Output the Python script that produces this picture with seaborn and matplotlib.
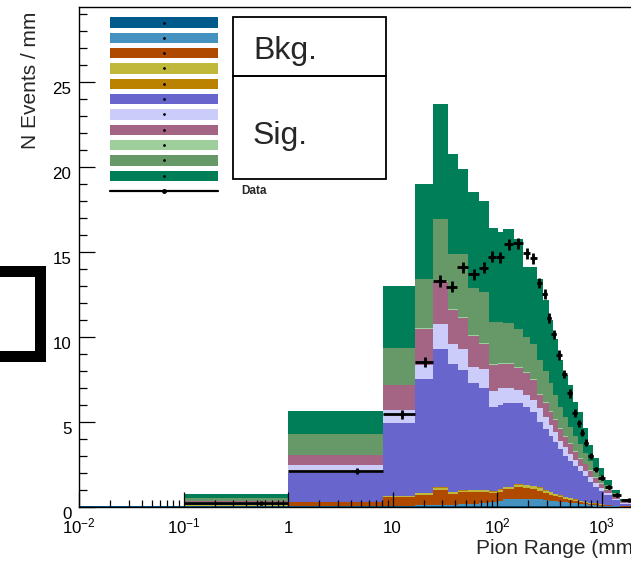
import numpy as np
import pandas as pd
import matplotlib
matplotlib.use("Agg")
import matplotlib.pyplot as plt
import seaborn as sns
from matplotlib.patches import Rectangle
from matplotlib.lines import Line2D
from matplotlib.ticker import FixedLocator, FixedFormatter, LogLocator, NullFormatter, MultipleLocator

# ---------------- data ----------------
mc_edges = [0.01, 0.1, 1, 8.06, 16.4, 24.6, 33.7, 42.1, 52.4, 67.7, 84.4, 101.6, 115, 146,
            179, 209, 240, 277, 315, 346, 381, 425, 475, 530, 592, 670, 738, 835, 952,
            1064, 1269, 1503, 2138]

layer_names = ["Bkg. 1", "Bkg. 2", "Bkg. 3", "Bkg. 4", "Sig. 1", "Sig. 2", "Sig. 3",
               "Sig. 4", "Sig. 5", "Sig. 6", "Sig. 7"]
layer_colors = ["#005A8C", "#4592C0", "#B04A00", "#C0B83A", "#BA8200", "#6866CC",
                "#CCCCFA", "#A46484", "#9ECE9C", "#679867", "#007E58"]

# cumulative top of each stacked layer per bin (bottom layer first)
top_bkg1 = [0.06, 0.03, 0.03, 0.03, 0.03, 0.04, 0.04, 0.04, 0.05, 0.05, 0.05, 0.05, 0.06, 0.06, 0.06, 0.06,
            0.06, 0.05, 0.05, 0.05, 0.04, 0.04, 0.04, 0.03, 0.03, 0.03, 0.03, 0.02, 0.02, 0.02, 0.01, 0.01]
top_bkg2 = [0.06, 0.05, 0.06, 0.08, 0.10, 0.13, 0.13, 0.15, 0.20, 0.25, 0.30, 0.35, 0.45, 0.48, 0.48, 0.47,
            0.45, 0.42, 0.38, 0.35, 0.32, 0.28, 0.25, 0.22, 0.19, 0.16, 0.13, 0.10, 0.08, 0.06, 0.04, 0.02]
top_bkg3 = [0.06, 0.08, 0.30, 0.58, 0.72, 1.00, 0.78, 0.88, 0.88, 0.90, 0.80, 0.90, 1.05, 1.15, 1.10, 1.05,
            0.95, 0.82, 0.72, 0.64, 0.56, 0.48, 0.42, 0.36, 0.30, 0.25, 0.20, 0.16, 0.12, 0.09, 0.06, 0.03]
top_bkg4 = [0.06, 0.09, 0.31, 0.63, 0.80, 1.12, 0.86, 0.96, 0.98, 1.00, 0.90, 1.02, 1.18, 1.32, 1.28, 1.22,
            1.12, 0.97, 0.86, 0.76, 0.67, 0.58, 0.50, 0.43, 0.36, 0.30, 0.25, 0.20, 0.15, 0.11, 0.07, 0.04]
top_sig1 = [0.06, 0.10, 0.32, 0.65, 0.82, 1.15, 0.88, 0.98, 1.00, 1.02, 0.92, 1.04, 1.20, 1.35, 1.31, 1.25,
            1.15, 1.00, 0.88, 0.78, 0.69, 0.60, 0.52, 0.45, 0.38, 0.32, 0.26, 0.21, 0.16, 0.12, 0.08, 0.05]
top_sig2 = [0.06, 0.22, 2.00, 4.92, 7.53, 9.27, 8.39, 8.06, 7.27, 6.98, 5.90, 6.00, 6.14, 6.10, 5.90, 5.60,
            5.00, 4.60, 4.20, 3.80, 3.40, 3.00, 2.70, 2.40, 2.10, 1.80, 1.50, 1.20, 0.95, 0.70, 0.40, 0.18]
top_sig3 = [0.06, 0.27, 2.47, 5.70, 8.35, 10.76, 9.57, 9.27, 8.25, 8.10, 6.84, 6.98, 7.00, 6.90, 6.60, 6.30,
            5.80, 5.30, 4.80, 4.40, 3.90, 3.50, 3.10, 2.75, 2.40, 2.10, 1.75, 1.40, 1.10, 0.82, 0.48, 0.22]
top_sig4 = [0.06, 0.35, 3.06, 7.18, 10.47, 13.25, 11.60, 11.10, 10.06, 9.60, 8.35, 8.40, 8.40, 8.20, 7.90, 7.50,
            6.60, 6.10, 5.60, 5.10, 4.60, 4.10, 3.70, 3.25, 2.85, 2.50, 2.10, 1.70, 1.35, 1.00, 0.60, 0.28]
top_sig5 = [0.06, 0.36, 3.08, 7.20, 10.50, 13.30, 11.65, 11.15, 10.10, 9.65, 8.40, 8.45, 8.45, 8.25, 7.95, 7.55,
            6.65, 6.15, 5.65, 5.15, 4.65, 4.15, 3.75, 3.30, 2.90, 2.55, 2.15, 1.75, 1.40, 1.04, 0.63, 0.30]
top_sig6 = [0.06, 0.55, 4.27, 9.37, 13.40, 16.94, 14.86, 14.86, 12.86, 12.63, 10.90, 10.90, 10.80, 10.50, 10.00, 9.60,
            8.65, 8.00, 7.30, 6.60, 5.90, 5.30, 4.70, 4.20, 3.70, 3.20, 2.70, 2.20, 1.80, 1.30, 0.80, 0.38]
top_sig7 = [0.06, 0.75, 5.67, 13.00, 18.98, 23.69, 20.75, 19.88, 18.51, 18.00, 16.43, 16.20, 16.35, 15.76, 14.14, 14.14,
            13.40, 12.20, 11.00, 9.90, 8.65, 7.76, 7.18, 6.20, 5.60, 4.63, 3.65, 2.86, 2.27, 1.59, 1.00, 0.50]

data_edges = [0.1, 1, 8.06, 16.4, 24.6, 32.4, 41.4, 52.6, 66.7, 82.6, 97.5, 115.8, 143.2, 175.4,
              207.8, 238.8, 270.4, 301, 331, 371, 415.6, 467.7, 526, 580.8, 631, 682, 745, 832,
              936, 1072, 1265, 1538, 2138]
data_y = [0.22, 2.10, 5.45, 8.55, 13.31, 12.96, 14.10, 13.69, 14.08, 14.73, 14.69, 15.45, 15.51, 14.92,
          14.63, 13.16, 12.51, 11.10, 10.16, 8.94, 7.82, 6.69, 5.55, 4.92, 4.37, 3.78, 3.00, 2.22,
          1.73, 1.19, 0.71, 0.40]
data_yerr = [0.10, 0.17, 0.26, 0.30, 0.34, 0.33, 0.33, 0.32, 0.32, 0.32, 0.32, 0.32, 0.32, 0.31,
             0.31, 0.30, 0.30, 0.29, 0.28, 0.27, 0.26, 0.25, 0.23, 0.22, 0.21, 0.20, 0.18, 0.16,
             0.14, 0.12, 0.10, 0.07]

x_tick_values = [0.01, 0.1, 1, 10, 100, 1000]
x_tick_labels = [r"$10^{-2}$", r"$10^{-1}$", "1", "10", r"$10^{2}$", r"$10^{3}$"]
y_tick_values = [0, 5, 10, 15, 20, 25]

# ---------------- style ----------------
sns.set_theme(style="ticks")
plt.rcParams["font.family"] = ["Liberation Sans", "DejaVu Sans"]
plt.rcParams["mathtext.fontset"] = "custom"
plt.rcParams["mathtext.rm"] = "Liberation Sans"
plt.rcParams["mathtext.it"] = "Liberation Sans:italic"
plt.rcParams["mathtext.bf"] = "Liberation Sans:bold"

W, H = 631, 561
fig = plt.figure(figsize=(W / 100, H / 100), dpi=100)
fig.patch.set_facecolor("white")


def fx(px):
    return px / W


def fy(py):
    return 1 - py / H


ax_l, ax_r, ax_t, ax_b = 79, 638, 7.2, 507
ax = fig.add_axes([fx(ax_l), fy(ax_b), (ax_r - ax_l) / W, (ax_b - ax_t) / H])
ax.set_facecolor("white")

# ---------------- stacked histogram ----------------
tops = [top_bkg1, top_bkg2, top_bkg3, top_bkg4, top_sig1, top_sig2, top_sig3,
        top_sig4, top_sig5, top_sig6, top_sig7]
lo = np.array(mc_edges[:-1])
hi = np.array(mc_edges[1:])
centers = np.sqrt(lo * hi)
rows = []
prev = np.zeros(len(centers))
for name, top in zip(layer_names, tops):
    top = np.array(top)
    h = top - prev
    prev = top
    for c, w in zip(centers, h):
        rows.append({"range": c, "density": w, "component": name})
df = pd.DataFrame(rows)

log_bins = [float(v) for v in np.log10(mc_edges)]
sns.histplot(data=df, x="range", weights="density", hue="component",
             hue_order=layer_names[::-1],
             palette=dict(zip(layer_names, layer_colors)),
             bins=log_bins, log_scale=True, multiple="stack",
             element="step", fill=True, alpha=1, linewidth=0, legend=False, ax=ax)

# ---------------- data points ----------------
d_lo = np.array(data_edges[:-1])
d_hi = np.array(data_edges[1:])
d_x = (d_lo + d_hi) / 2
ax.errorbar(d_x, data_y, xerr=[d_x - d_lo, d_hi - d_x], yerr=data_yerr, fmt="o",
            color="black", ms=2.2, elinewidth=2.0, capsize=0, zorder=3)

# ---------------- axes ----------------
ax.set_xlim(0.01, 10 ** (-2 + (ax_r - ax_l) / 104.5))
ax.set_ylim(0, (ax_b - ax_t) / 17.0)
ax.set_axisbelow(False)
ax.xaxis.set_major_locator(FixedLocator(x_tick_values))
ax.xaxis.set_major_formatter(FixedFormatter(x_tick_labels))
ax.xaxis.set_minor_locator(LogLocator(base=10, subs=np.arange(2, 10), numticks=100))
ax.xaxis.set_minor_formatter(NullFormatter())
ax.yaxis.set_major_locator(FixedLocator(y_tick_values))
ax.yaxis.set_minor_locator(MultipleLocator(1))
ax.tick_params(axis="both", which="both", direction="in", colors="black")
ax.tick_params(axis="y", which="major", length=16 * 0.72, width=0.9, labelsize=12.2, pad=5.5)
ax.tick_params(axis="y", which="minor", length=8 * 0.72, width=0.9)
ax.tick_params(axis="x", which="major", length=15 * 0.72, width=0.9, labelsize=12.2, pad=18.7)
ax.tick_params(axis="x", which="minor", length=7.5 * 0.72, width=0.9)
for t in ax.get_xticklabels():
    t.set_verticalalignment("baseline")
for t in ax.get_yticklabels():
    t.set_verticalalignment("top")
for s in ax.spines.values():
    s.set_color("black")
    s.set_linewidth(1.0)
ax.set_xlabel("")
ax.set_ylabel("")
ax.grid(False)

fig.text(fx(30), fy(12), "N Events / mm", rotation=90, ha="center", va="top", fontsize=15)
fig.text(fx(640), fy(548), "Pion Range (mm)", ha="right", va="center", fontsize=15)

# ---------------- legend ----------------
row0, dy = 22.5, 15.33
for i, col in enumerate(layer_colors):
    yc = row0 + i * dy
    fig.add_artist(Rectangle((fx(110), fy(yc + 5.2)), (218 - 110) / W, 10.4 / H,
                             transform=fig.transFigure, facecolor=col, edgecolor="none"))
    fig.add_artist(Line2D([fx(164)], [fy(yc)], marker="o", ms=1.0, color="black",
                          linestyle="none", transform=fig.transFigure))
yd = row0 + 11 * dy
fig.add_artist(Line2D([fx(110), fx(218)], [fy(yd), fy(yd)], color="black", lw=1.6,
                      transform=fig.transFigure))
fig.add_artist(Line2D([fx(164)], [fy(yd)], marker="o", ms=2.5, color="black",
                      linestyle="none", transform=fig.transFigure))
fig.text(fx(241.5), fy(yd), "Data", fontsize=8.5, fontweight="bold", ha="left", va="center")

fig.add_artist(Rectangle((fx(233.3), fy(76)), (386 - 233.3) / W, (76 - 17.3) / H, fill=False,
                         edgecolor="black", lw=1.3, transform=fig.transFigure))
fig.add_artist(Rectangle((fx(233.3), fy(179.3)), (386 - 233.3) / W, (179.3 - 76) / H, fill=False,
                         edgecolor="black", lw=1.3, transform=fig.transFigure))
fig.text(fx(253), fy(59.3), "Bkg.", fontsize=23, ha="left", va="baseline")
fig.text(fx(253), fy(144), "Sig.", fontsize=23, ha="left", va="baseline")

# ---------------- bracket on the left edge ----------------
fig.add_artist(Line2D([fx(-20), fx(40), fx(40), fx(-20)], [fy(271), fy(271), fy(355.5), fy(355.5)],
                      color="black", lw=11 * 0.72, solid_joinstyle="miter", solid_capstyle="butt",
                      transform=fig.transFigure))

fig.savefig("out.png", dpi=100)
